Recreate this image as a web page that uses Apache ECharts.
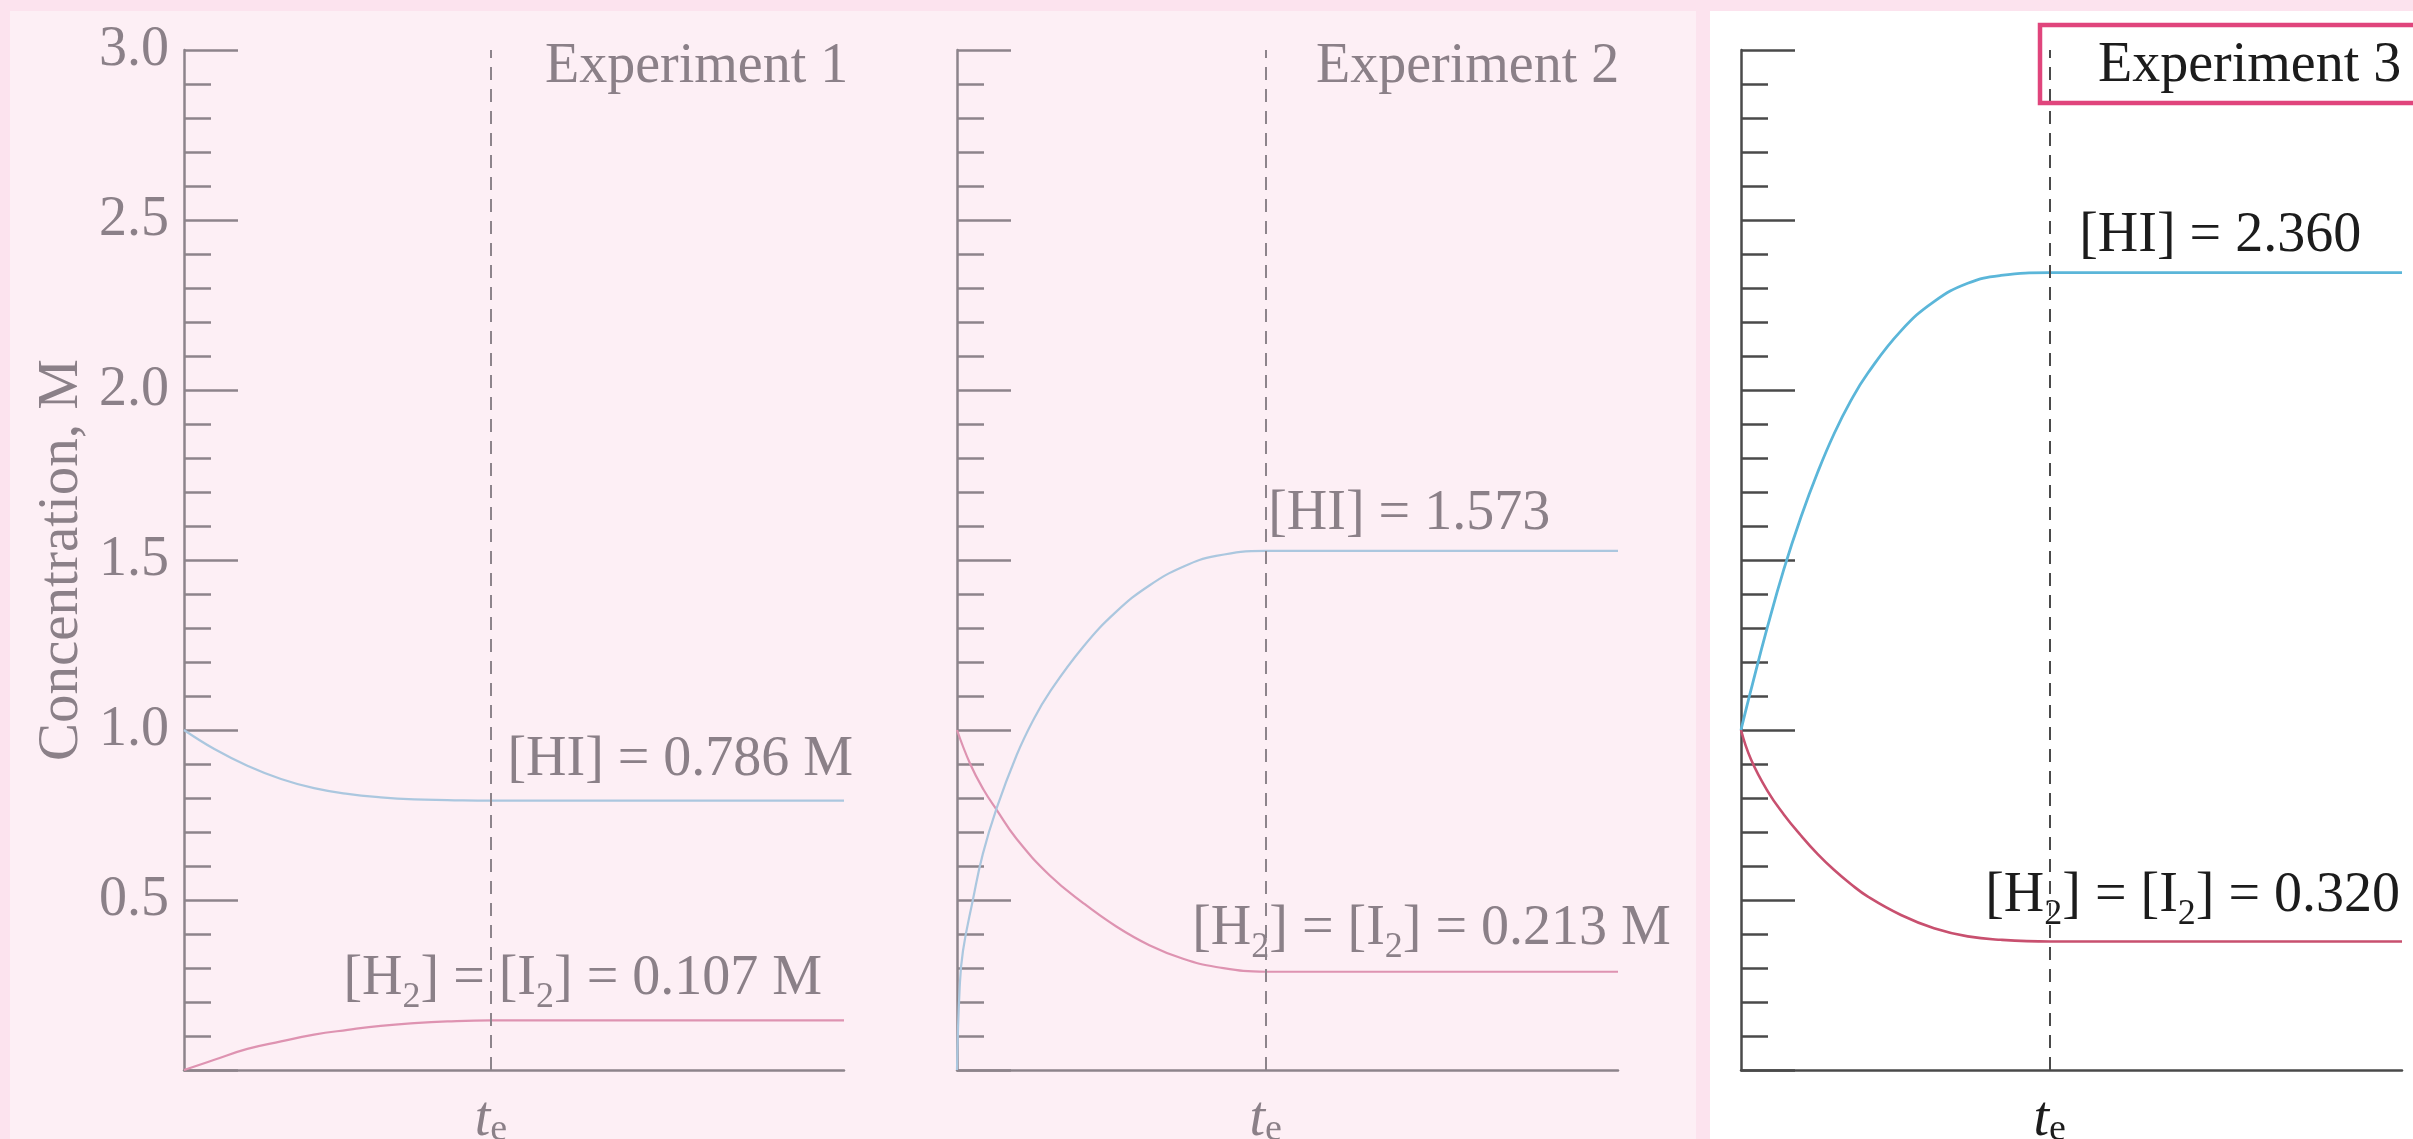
<!DOCTYPE html>
<html><head><meta charset="utf-8">
<script src="https://cdn.jsdelivr.net/npm/echarts@6/dist/echarts.min.js"></script>
<style>html,body{margin:0;padding:0;background:#fce3ee;overflow:hidden}#c{width:2413px;height:1139px}</style>
</head><body><div id="c"></div>
<script>
// ---------- DATA ----------
const experimentTitles = ['Experiment 1', 'Experiment 2', 'Experiment 3'];
const yAxisTitle = 'Concentration, M';
const equilibriumTimes = [46.5, 46.7, 46.7];

const exp1Time   = [0, 4.6, 9.6, 14.7, 19.7, 24.8, 29.8, 34.9, 39.9, 46.5, 100];
const exp1HI     = [1.0, 0.944, 0.895, 0.856, 0.829, 0.812, 0.802, 0.796, 0.794, 0.792, 0.792];
const exp1H2     = [0, 0.030, 0.062, 0.084, 0.104, 0.118, 0.130, 0.138, 0.143, 0.146, 0.146];

const exp2TimeHI = [0, 0.4, 0.9, 2.4, 3.9, 6.0, 9.0, 11.5, 14.0, 19.1, 24.1, 29.1, 34.2, 39.2, 46.7, 100];
const exp2HI     = [0, 0.24, 0.35, 0.50, 0.635, 0.77, 0.925, 1.028, 1.111, 1.245, 1.348, 1.425, 1.480, 1.512, 1.527, 1.527];
const exp2TimeH2 = [0, 2.0, 4.0, 6.0, 9.0, 14.0, 19.1, 24.1, 29.1, 34.2, 39.2, 46.7, 100];
const exp2H2     = [1.0, 0.900, 0.825, 0.765, 0.680, 0.573, 0.491, 0.422, 0.367, 0.327, 0.303, 0.289, 0.289];

const exp3Time   = [0, 1.5, 4.0, 6.5, 9.1, 11.6, 14.1, 16.6, 19.2, 24.2, 29.2, 34.3, 39.3, 46.7, 100];
const exp3HI     = [1.0, 1.117, 1.303, 1.474, 1.628, 1.758, 1.872, 1.968, 2.050, 2.174, 2.260, 2.314, 2.337, 2.345, 2.345];
const exp3H2     = [1.0, 0.914, 0.821, 0.751, 0.689, 0.635, 0.588, 0.547, 0.510, 0.456, 0.417, 0.393, 0.383, 0.378, 0.378];

const hiLabels = ['[HI] = 0.786 M', '[HI] = 1.573', '[HI] = 2.360'];
const h2Labels = ['[H{s|2}] = [I{s|2}] = 0.107 M', '[H{s|2}] = [I{s|2}] = 0.213 M', '[H{s|2}] = [I{s|2}] = 0.320'];
const timeTickLabel = '{t|t}{e|e}';

// ---------- LAYOUT / STYLE ----------
const SERIF = "'Liberation Serif','Times New Roman',serif";
const hiTimes = [exp1Time, exp2TimeHI, exp3Time];
const h2Times = [exp1Time, exp2TimeH2, exp3Time];
const hiVals = [exp1HI, exp2HI, exp3HI];
const h2Vals = [exp1H2, exp2H2, exp3H2];
const panels = [
  { left: 184, width: 660, titleX: 545, titleY: 67, hiOff: [17, -40], h2Off: [-147, -41] },
  { left: 957, width: 661, titleX: 1316, titleY: 67, hiOff: [3, -36], h2Off: [-73, -42] },
  { left: 1741, width: 661, titleX: 2098, titleY: 66, hiOff: [30, -36], h2Off: [-64, -44.5] }
];
const faded = { text: '#8b8088', axis: '#8d848b', hi: '#abc7df', h2: '#de93b1' };
const dark = { text: '#1c1c1c', axis: '#4a4a4a', hi: '#5bb6d9', h2: '#c8506f' };
const styles = [faded, faded, dark];
const TOP = 50, HEIGHT = 1020;

function richFor(color) {
  return {
    s: { fontFamily: SERIF, fontSize: 36, color: color, padding: [37, 0, 0, 0] },
    t: { fontFamily: SERIF, fontSize: 56, fontStyle: 'italic', color: color },
    e: { fontFamily: SERIF, fontSize: 38, color: color, padding: [20, 0, 0, 0] }
  };
}

const grid = [], xAxis = [], yAxis = [], series = [];
panels.forEach((p, i) => {
  const st = styles[i];
  grid.push({ left: p.left, top: TOP, width: p.width, height: HEIGHT, containLabel: false, outerBoundsMode: 'none' });
  xAxis.push({
    type: 'value', gridIndex: i, min: 0, max: 100,
    axisLine: { show: true, onZero: false, lineStyle: { color: st.axis, width: 2.5 } },
    axisTick: { show: false },
    splitLine: { show: false },
    axisLabel: {
      show: true, customValues: [equilibriumTimes[i]], margin: 21,
      formatter: () => timeTickLabel, rich: richFor(st.text), color: st.text
    }
  });
  yAxis.push({
    type: 'value', gridIndex: i, min: 0, max: 3, interval: 0.5,
    name: i === 0 ? yAxisTitle : '', nameLocation: 'middle', nameRotate: 90, nameGap: 122,
    nameTextStyle: { fontFamily: SERIF, fontSize: 57, color: st.text, verticalAlign: 'middle' },
    axisLine: { show: true, lineStyle: { color: st.axis, width: 2.5 } },
    axisTick: { show: true, inside: true, length: 54, lineStyle: { color: st.axis, width: 2.5 } },
    minorTick: { show: true, splitNumber: 5, length: 27, lineStyle: { color: st.axis, width: 2.5 } },
    splitLine: { show: false }, minorSplitLine: { show: false },
    axisLabel: {
      show: i === 0, margin: 15, fontFamily: SERIF, fontSize: 56, color: st.text,
      formatter: v => (v === 0 ? '' : v.toFixed(1))
    }
  });
  const te = equilibriumTimes[i];
  const hiData = hiTimes[i].map((t, k) => [t, hiVals[i][k]]);
  const h2Data = h2Times[i].map((t, k) => [t, h2Vals[i][k]]);
  const hiEq = hiVals[i][hiVals[i].length - 1];
  const h2Eq = h2Vals[i][h2Vals[i].length - 1];
  const labelBase = { show: true, align: 'left', verticalAlign: 'middle', fontFamily: SERIF, fontSize: 56, color: st.text, rich: richFor(st.text) };
  series.push({
    type: 'line', name: 'H2', xAxisIndex: i, yAxisIndex: i, data: h2Data,
    showSymbol: false, smooth: 0.45, silent: true,
    lineStyle: { color: st.h2, width: i === 2 ? 2.6 : 2.2 },
    markPoint: {
      symbol: 'circle', symbolSize: 1, itemStyle: { color: 'rgba(0,0,0,0)' }, silent: true,
      data: [{ coord: [te, h2Eq], label: Object.assign({}, labelBase, { position: p.h2Off, formatter: h2Labels[i] }) }]
    }
  });
  series.push({
    type: 'line', name: 'HI', xAxisIndex: i, yAxisIndex: i, data: hiData,
    showSymbol: false, smooth: 0.45, silent: true,
    lineStyle: { color: st.hi, width: i === 2 ? 2.8 : 2.2 },
    markLine: {
      silent: true, symbol: ['none', 'none'], label: { show: false },
      lineStyle: { color: st.axis, width: 2, type: [13, 9] },
      data: [{ xAxis: te }]
    },
    markPoint: {
      symbol: 'circle', symbolSize: 1, itemStyle: { color: 'rgba(0,0,0,0)' }, silent: true,
      data: [{ coord: [te, hiEq], label: Object.assign({}, labelBase, { position: p.hiOff, formatter: hiLabels[i] }) }]
    }
  });
});

const graphicEls = [
  { type: 'rect', z: -100, silent: true, shape: { x: 10, y: 11, width: 1686, height: 1140 }, style: { fill: '#fdeff5' } },
  { type: 'rect', z: -100, silent: true, shape: { x: 1710, y: 11, width: 710, height: 1140 }, style: { fill: '#ffffff' } },
  { type: 'rect', z: 10, silent: true, shape: { x: 2040, y: 25, width: 400, height: 78 }, style: { fill: 'none', stroke: '#e0457c', lineWidth: 4.5 } }
];
panels.forEach((p, i) => {
  graphicEls.push({
    type: 'text', z: 10, silent: true, x: p.titleX, y: p.titleY,
    style: { text: experimentTitles[i], font: '56px ' + SERIF, fill: styles[i].text, textAlign: 'left', textVerticalAlign: 'middle' }
  });
});

const chart = echarts.init(document.getElementById('c'), null, { renderer: 'canvas', width: 2413, height: 1139 });
chart.setOption({
  backgroundColor: '#fce3ee',
  animation: false,
  grid, xAxis, yAxis, series,
  graphic: { elements: graphicEls }
});
</script></body></html>
